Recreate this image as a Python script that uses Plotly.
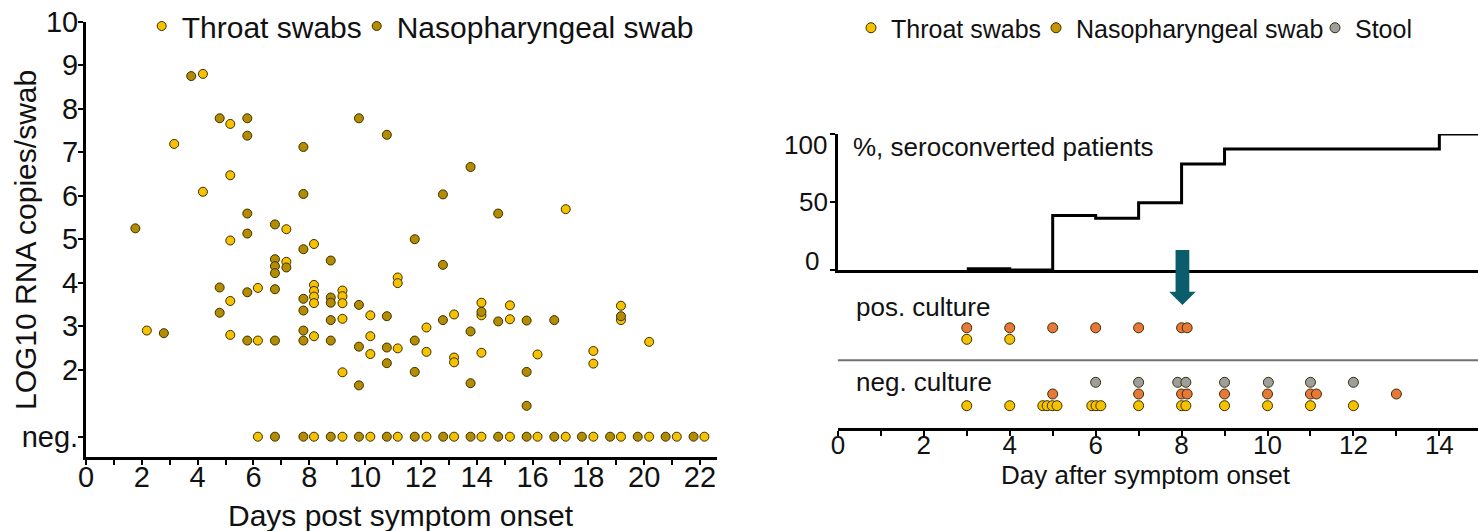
import plotly.graph_objects as go

W, H = 1478, 531
FONT = "Liberation Sans, Arial, sans-serif"
INK = "#111111"
THROAT = "#F6C200"
NASO = "#B48C00"
NASO_KEY = "#C39600"
ORANGE = "#E8783A"
STOOL = "#9E9E9E"
EDGE = "#3A2F00"
TEAL = "#0B5D6B"

# ---- left panel: viral RNA per swab ----
THROAT_DAYS = [2.18, 3.16, 4.19, 4.19, 5.17, 5.17, 5.17, 5.17, 5.17, 6.16, 6.16,
               7.18, 7.18, 8.17, 8.17, 8.17, 8.17, 8.17, 8.17,
               9.19, 9.19, 9.19, 9.19, 9.19, 10.19, 10.19, 10.19,
               11.17, 11.17, 11.17, 12.20, 12.20, 13.19, 13.19, 13.19,
               14.17, 14.17, 14.17, 15.19, 15.19, 16.18, 17.19, 18.18, 18.18,
               19.17, 19.17, 20.18]
THROAT_LOG = [2.90, 7.19, 8.80, 6.09, 7.65, 6.47, 4.97, 3.58, 2.80, 3.88, 2.67,
              5.23, 4.48, 4.89, 3.95, 3.81, 3.68, 3.53, 2.77,
              3.82, 3.69, 3.53, 3.17, 1.94, 3.25, 2.77, 2.36,
              4.12, 3.99, 2.49, 2.97, 2.41, 3.27, 2.28, 2.17,
              3.54, 3.25, 2.39, 3.48, 3.16, 2.35, 5.69, 2.43, 2.14,
              3.47, 3.14, 2.64]
NASO_DAYS = [1.77, 2.79, 3.77, 4.79, 4.79, 4.79,
             5.78, 5.78, 5.78, 5.78, 5.78, 5.78,
             6.77, 6.77, 6.77, 6.77, 6.77, 6.77, 7.18,
             7.79, 7.79, 7.79, 7.79, 7.79, 7.79, 7.79,
             8.77, 8.77, 8.77, 8.77, 8.77, 9.78, 9.78, 9.78, 9.78,
             10.78, 10.78, 10.78, 10.78, 11.78, 11.78, 11.78,
             12.79, 12.79, 12.79, 13.78, 13.78, 13.78, 14.17, 14.77, 14.77,
             15.79, 15.79, 15.79, 16.78, 19.17]
NASO_LOG = [5.25, 2.84, 8.75, 7.78, 3.89, 3.31,
            7.78, 7.38, 5.59, 5.13, 3.78, 2.67,
            5.34, 4.54, 4.38, 4.22, 3.85, 2.67, 4.35,
            7.12, 6.04, 4.77, 3.63, 3.36, 2.90, 2.67,
            4.51, 3.66, 3.54, 3.14, 2.67, 7.78, 3.49, 2.53, 1.64,
            7.40, 3.23, 2.51, 2.15, 5.00, 2.67, 1.95,
            6.03, 4.41, 3.14, 6.66, 2.88, 1.69, 3.33, 5.59, 3.11,
            3.13, 1.95, 1.17, 3.14, 3.23]
THROAT_NEG_DAYS = [6.16, 8.17, 9.19, 10.19, 11.17, 12.20, 13.19, 14.17, 15.19,
                   16.18, 17.19, 18.18, 19.17, 20.18, 21.17, 22.16]
NASO_NEG_DAYS = [6.77, 7.79, 8.77, 9.78, 10.78, 11.78, 12.80, 13.78, 14.77,
                 15.79, 16.78, 17.77, 18.78, 19.77, 20.77, 21.77]
NEG_LEVEL = 0.46
Y_TICKS = [NEG_LEVEL, 2, 3, 4, 5, 6, 7, 8, 9, 10]
Y_TICKTEXT = ["neg.", "2", "3", "4", "5", "6", "7", "8", "9", "10"]

# ---- right panel: seroconversion and culture ----
SERO_DAYS = [3, 4, 5, 6, 7, 8, 9, 14, 14.9]
SERO_PCT = [1, 0, 40, 38, 49.5, 78, 89, 100, 100]
SERO_TICKS = [0, 50, 100]
POS_ORANGE_DAYS = [3, 4, 5, 6, 7, 8, 8.13]
POS_YELLOW_DAYS = [3, 4]
NEG_GRAY_DAYS = [6, 7, 7.91, 8.10, 9, 10.02, 11, 12]
NEG_ORANGE_DAYS = [5, 7, 8, 8.13, 9, 10, 11, 11.14, 13]
NEG_YELLOW_DAYS = [3, 4, 4.77, 4.87, 4.99, 5.10, 5.91, 6.01, 6.12, 7, 8, 8.10,
                   9, 10, 11, 12]

# culture rows, in pixels above the bottom axis
ROW_POS_ORANGE, ROW_POS_YELLOW = 100.5, 89
ROW_NEG_GRAY, ROW_NEG_ORANGE, ROW_NEG_YELLOW = 46, 34.3, 22.6


def px(x):
    return x / W


def py(y):
    return 1 - y / H


def dots(color, size=9):
    return dict(color=color, size=size, line=dict(color=EDGE, width=1))


def key(x_left, y_mid, size):
    # one legend per entry so every key sits where the reference has it
    return dict(orientation="h", x=px(x_left), xanchor="left", y=py(y_mid),
                yanchor="middle", bgcolor="rgba(0,0,0,0)",
                font=dict(size=size, family=FONT, color=INK))


fig = go.Figure()

fig.add_trace(go.Scatter(
    x=THROAT_DAYS + THROAT_NEG_DAYS,
    y=THROAT_LOG + [NEG_LEVEL] * len(THROAT_NEG_DAYS),
    mode="markers", name="Throat swabs", marker=dots(THROAT),
    xaxis="x", yaxis="y", legend="legend",
))
fig.add_trace(go.Scatter(
    x=NASO_DAYS + NASO_NEG_DAYS,
    y=NASO_LOG + [NEG_LEVEL] * len(NASO_NEG_DAYS),
    mode="markers", name="Nasopharyngeal swab", marker=dots(NASO),
    xaxis="x", yaxis="y", legend="legend2",
))

fig.add_trace(go.Scatter(
    x=SERO_DAYS, y=SERO_PCT, mode="lines", line_shape="hv",
    line=dict(color="black", width=3), showlegend=False,
    xaxis="x3", yaxis="y2",
))

fig.add_trace(go.Scatter(
    x=POS_YELLOW_DAYS + NEG_YELLOW_DAYS,
    y=[ROW_POS_YELLOW] * len(POS_YELLOW_DAYS) + [ROW_NEG_YELLOW] * len(NEG_YELLOW_DAYS),
    mode="markers", name="Throat swabs", marker=dots(THROAT, 10),
    xaxis="x2", yaxis="y3", legend="legend3",
))
fig.add_trace(go.Scatter(
    x=[None], y=[None], mode="markers", name="Nasopharyngeal swab",
    marker=dots(NASO_KEY, 10), xaxis="x2", yaxis="y3", legend="legend4",
))
fig.add_trace(go.Scatter(
    x=NEG_GRAY_DAYS, y=[ROW_NEG_GRAY] * len(NEG_GRAY_DAYS),
    mode="markers", name="Stool", marker=dots(STOOL, 10),
    xaxis="x2", yaxis="y3", legend="legend5",
))
fig.add_trace(go.Scatter(
    x=POS_ORANGE_DAYS + NEG_ORANGE_DAYS,
    y=[ROW_POS_ORANGE] * len(POS_ORANGE_DAYS) + [ROW_NEG_ORANGE] * len(NEG_ORANGE_DAYS),
    mode="markers", marker=dots(ORANGE, 10), showlegend=False,
    xaxis="x2", yaxis="y3",
))

axis_base = dict(showgrid=False, zeroline=False, showline=True, linecolor="black",
                 ticks="outside", tickcolor="black", tickwidth=2, ticklen=5,
                 automargin=False, tickfont=dict(family=FONT, color=INK))
minor_ticks = dict(dtick=1, ticks="outside", ticklen=5, tickwidth=2, tickcolor="black")


def label(text, x, y, size, anchor="center", angle=0):
    return dict(text=text, xref="paper", yref="paper", x=px(x), y=py(y),
                xanchor=anchor, yanchor="middle", textangle=angle,
                showarrow=False, font=dict(size=size, family=FONT, color=INK))


fig.update_layout(
    width=W, height=H,
    margin=dict(l=0, r=0, t=0, b=0, autoexpand=False),
    paper_bgcolor="white", plot_bgcolor="rgba(0,0,0,0)",
    font=dict(family=FONT, color=INK),
    xaxis=dict(axis_base, domain=[px(86), px(716.7)], range=[0, 22.6], anchor="y",
               linewidth=3, dtick=2, tick0=0, tickfont_size=29, minor=minor_ticks,
               ticklabelstandoff=-13),
    yaxis=dict(axis_base, domain=[py(456.7), py(21.7)], range=[0, 10], anchor="x",
               linewidth=3, tickvals=Y_TICKS, ticktext=Y_TICKTEXT, tickfont_size=29,
               ticklabelstandoff=-6),
    xaxis2=dict(axis_base, domain=[px(837.9), 1], range=[0, 14.9], anchor="y3",
                linewidth=3, dtick=2, tick0=0, tickfont_size=26, minor=minor_ticks,
                ticklabelstandoff=-14),
    yaxis3=dict(domain=[py(428.3), py(290)], range=[0, 138.3], anchor="x2",
                visible=False, fixedrange=True),
    xaxis3=dict(domain=[px(837.9), 1], range=[0, 14.9], anchor="y2", matches="x2",
                showline=True, linecolor="black", linewidth=3, ticks="",
                showticklabels=False, showgrid=False, zeroline=False, automargin=False),
    # 0 and 100 are labelled just inside the axis ends, as in the reference
    yaxis2=dict(axis_base, domain=[py(270), py(134)], range=[0, 100], anchor="x3",
                linewidth=2.5, tickvals=SERO_TICKS,
                ticktext=["", str(SERO_TICKS[1]), ""], tickfont_size=26,
                ticklabelstandoff=-3),
    legend=key(141.7, 26, 30),
    legend2=key(356.7, 26, 30),
    legend3=key(851, 28, 25),
    legend4=key(1036, 28, 25),
    legend5=key(1315, 28, 25),
    shapes=[
        dict(type="line", xref="paper", yref="y3", x0=px(837.9), x1=1, y0=68, y1=68,
             line=dict(color="#707070", width=2)),
        dict(type="path", xref="x2", yref="paper", fillcolor=TEAL, line=dict(width=0),
             path=(f"M 7.86,{py(250)} L 8.18,{py(250)} L 8.18,{py(291.7)} "
                   f"L 8.33,{py(291.7)} L 8.02,{py(305)} L 7.71,{py(291.7)} "
                   f"L 7.86,{py(291.7)} Z")),
    ],
    annotations=[
        label("LOG10 RNA copies/swab", 25, 240, 30, angle=-90),
        label("Days post symptom onset", 400.5, 515, 30),
        label("Day after symptom onset", 1145.8, 475, 26),
        label(str(SERO_TICKS[2]), 829, 145, 26, anchor="right"),
        label(str(SERO_TICKS[0]), 821, 261, 26, anchor="right"),
        label("%, seroconverted patients", 851, 146.7, 26, anchor="left"),
        label("pos. culture", 853.5, 306.7, 26, anchor="left"),
        label("neg. culture", 853.5, 381.7, 26, anchor="left"),
    ],
)

fig.write_html("out.html", config={"displayModeBar": False},
               post_script="document.body.style.margin='0';")
